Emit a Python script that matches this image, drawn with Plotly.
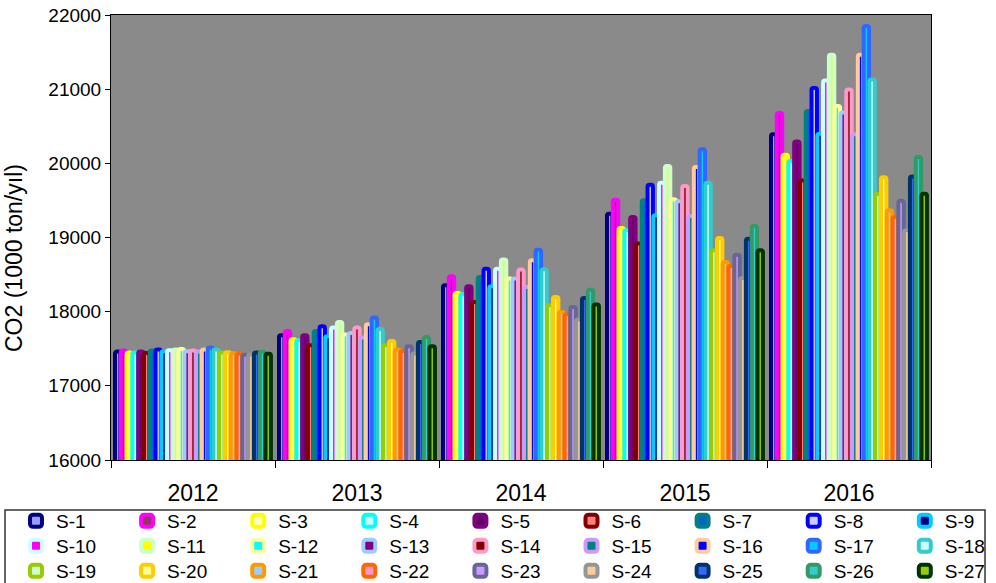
import plotly.graph_objects as go

years = ["2012", "2013", "2014", "2015", "2016"]
series = ["S-%d" % i for i in range(1, 28)]
y_title = "CO2 (1000 ton/yıl)"

v2012 = [17462, 17476, 17449, 17449, 17462, 17444, 17476, 17489, 17467, 17480,
         17489, 17498, 17467, 17476, 17462, 17489, 17516, 17489, 17449, 17453,
         17440, 17431, 17418, 17422, 17449, 17458, 17431]
v2013 = [17682, 17740, 17628, 17615, 17682, 17547, 17740, 17803, 17669, 17785,
         17862, 17691, 17714, 17785, 17651, 17830, 17920, 17767, 17547, 17606,
         17489, 17471, 17534, 17435, 17592, 17660, 17534]
v2014 = [18356, 18478, 18253, 18235, 18343, 18131, 18468, 18580, 18343, 18580,
         18702, 18446, 18446, 18567, 18334, 18693, 18836, 18572, 18086, 18199,
         17997, 17966, 18064, 17893, 18185, 18297, 18095]
v2015 = [19321, 19510, 19129, 19097, 19277, 18918, 19501, 19712, 19299, 19739,
         19964, 19515, 19488, 19695, 19290, 19951, 20189, 19739, 18827, 18992,
         18670, 18617, 18769, 18455, 18983, 19156, 18827]
v2016 = [20391, 20679, 20117, 20032, 20296, 19769, 20705, 21015, 20400, 21118,
         21465, 20773, 20684, 20997, 20391, 21465, 21851, 21132, 19590, 19813,
         19367, 19277, 19495, 19097, 19823, 20086, 19590]

line_colors = ["#000080", "#FF00FF", "#FFFF00", "#00FFFF", "#800080", "#800000", "#008080",
               "#0000FF", "#00CCFF", "#CCFFFF", "#CCFFCC", "#FFFF99", "#99CCFF", "#FF99CC",
               "#CC99FF", "#FFCC99", "#3366FF", "#33CCCC", "#99CC00", "#FFCC00", "#FF9900",
               "#FF6600", "#666699", "#969696", "#003366", "#339966", "#003300"]
fill_colors = ["#9999FF", "#993366", "#FFFFCC", "#CCFFFF", "#660066", "#FF8080", "#0066CC",
               "#CCCCFF", "#000080", "#FF00FF", "#FFFF00", "#00FFFF", "#800080", "#800000",
               "#008080", "#0000FF", "#00CCFF", "#CCFFFF", "#CCFFCC", "#FFFF99", "#99CCFF",
               "#FF99CC", "#CC99FF", "#FFCC99", "#3366FF", "#33CCCC", "#99CC00"]

FONT = "Liberation Sans, Arial, sans-serif"
W, H = 996, 583
ML, MR, MT, MB = 111, 65, 15, 123
PW, PH = W - ML - MR, H - MT - MB
PX0, PY1 = ML, MT + PH  # plot-area left / bottom in page pixels


def px_x(p):
    return (p - PX0) / PW


def px_y(p):
    return (PY1 - p) / PH


bar_w = 0.033
stride = 0.0353
off0 = -0.4756

fig = go.Figure()
by_year = [v2012, v2013, v2014, v2015, v2016]
legend_layouts = {}
for k, name in enumerate(series):
    vals = [yv[k] for yv in by_year]
    lname = "legend" if k == 0 else "legend%d" % (k + 1)
    fig.add_trace(go.Bar(
        x=years, y=vals, name=name,
        offset=off0 + k * stride, width=bar_w,
        marker=dict(color=fill_colors[k], line=dict(color=line_colors[k], width=4), cornerradius=2),
        legend=lname, showlegend=True,
    ))
    row, col = k // 9, k % 9
    left_px = 16 + 111.1 * col
    y_px = 521 + 25 * row
    legend_layouts[lname] = dict(
        x=px_x(left_px), xref="paper", xanchor="left",
        y=px_y(y_px), yref="paper", yanchor="middle",
        bgcolor="rgba(0,0,0,0)", borderwidth=0,
        font=dict(family=FONT, size=19, color="black"),
        orientation="v",
    )

fig.update_layout(
    width=W, height=H,
    margin=dict(l=ML, r=MR, t=MT, b=MB, autoexpand=False),
    barmode="overlay",
    paper_bgcolor="white",
    plot_bgcolor="#8A8A8A",
    font=dict(family=FONT, color="black"),
    xaxis=dict(
        type="category", range=[-0.5, 4.5], tickson="boundaries",
        ticks="outside", ticklen=7, tickcolor="black",
        showline=True, linecolor="black", linewidth=1, mirror=True,
        tickfont=dict(size=23), showgrid=False, ticklabelstandoff=12,
    ),
    yaxis=dict(
        range=[16000, 22000], dtick=1000, tick0=16000, tickformat="d",
        ticks="outside", ticklen=5, tickcolor="black",
        showline=True, linecolor="black", linewidth=1, mirror=True,
        tickfont=dict(size=19), showgrid=False, zeroline=False,
        ticklabeloverflow="allow",
    ),
    annotations=[dict(
        text=y_title, textangle=-90, showarrow=False,
        xref="paper", yref="paper", x=px_x(14), y=px_y(258),
        xanchor="center", yanchor="middle",
        font=dict(family=FONT, size=23, color="black"),
    )],
    shapes=[dict(
        type="rect", xref="paper", yref="paper",
        x0=px_x(5), x1=px_x(985),
        y0=px_y(510), y1=px_y(600),
        line=dict(color="#333333", width=1.5), fillcolor="rgba(0,0,0,0)",
    )],
    **legend_layouts,
)

fig.write_html("out.html", config={"displayModeBar": False},
               post_script="document.body.style.margin='0';")
